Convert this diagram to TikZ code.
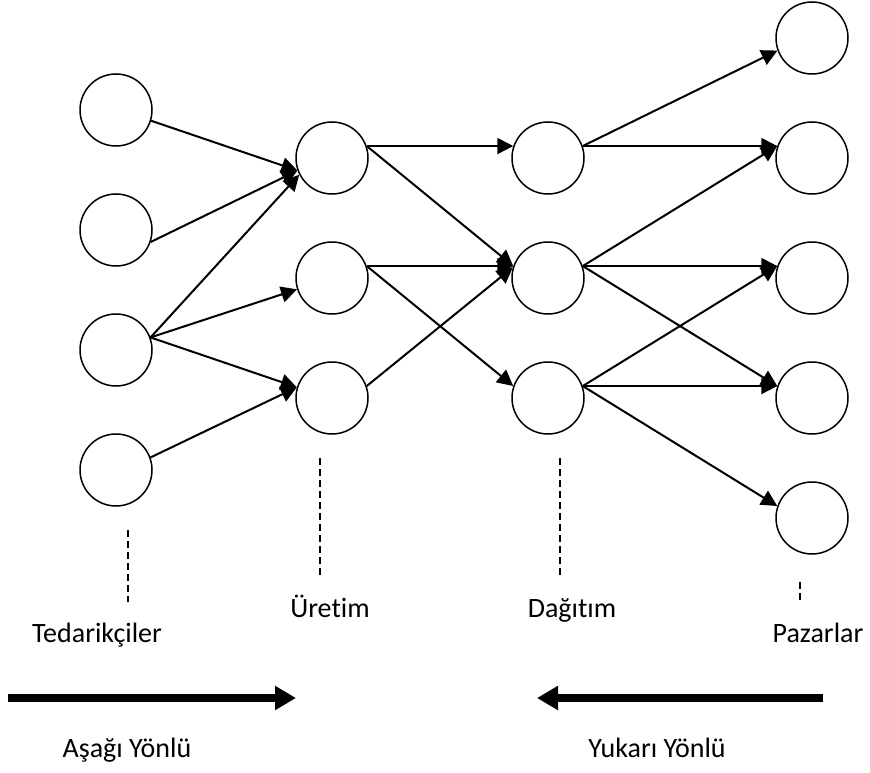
\documentclass[tikz,border=0pt]{standalone}
\usepackage{fontspec}
\setmainfont{Carlito}[Ligatures=NoCommon]
\usetikzlibrary{arrows.meta}

\begin{document}
\begin{tikzpicture}
		[
			x = 1pt, y = -1pt,
			firm/.style = {circle, draw = black, line width = 1.5pt, minimum size = 72pt, inner sep = 0pt},
			flow/.style = {line width = 2pt, -{Triangle[length = 16pt, width = 16pt]}},
			guide/.style = {line width = 1.3pt, dash pattern = on 7pt off 4pt},
			trend/.style = {line width = 8pt, -{Triangle[length = 21pt, width = 23pt]}},
			caption/.style = {anchor = base, inner sep = 0pt, font = \fontsize{28}{34}\selectfont},
		]
			%
			\useasboundingbox (0,0) rectangle (870,773);
			%
			\node (tedA) [firm] at (116,110) {};
			\node (tedB) [firm] at (116,230) {};
			\node (tedC) [firm] at (116,350) {};
			\node (tedD) [firm] at (116,470) {};
			%
			\node (uretA) [firm] at (332,158) {};
			\node (uretB) [firm] at (332,278) {};
			\node (uretC) [firm] at (332,398) {};
			%
			\node (dagA) [firm] at (548,158) {};
			\node (dagB) [firm] at (548,278) {};
			\node (dagC) [firm] at (548,398) {};
			%
			\node (pazA) [firm] at (812,38) {};
			\node (pazB) [firm] at (812,158) {};
			\node (pazC) [firm] at (812,278) {};
			\node (pazD) [firm] at (812,398) {};
			\node (pazE) [firm] at (812,518) {};
			%
			\draw [flow] (tedA.-17) -- (uretA.200);
			\draw [flow] (tedB.-19) -- (uretA.200);
			\draw [flow] (tedC.20) -- (uretA.207);
			\draw [flow] (tedC.20) -- (uretB.198);
			\draw [flow] (tedC.20) -- (uretC.163);
			\draw [flow] (tedD.20) -- (uretC.163);
			%
			\draw [flow] (uretA.19) -- (dagA.161);
			\draw [flow] (uretA.19) -- (dagB.161);
			\draw [flow] (uretB.19) -- (dagB.161);
			\draw [flow] (uretB.19) -- (dagC.161);
			\draw [flow] (uretC.19) -- (dagB.163);
			%
			\draw [flow] (dagA.19) -- (pazA.200);
			\draw [flow] (dagA.19) -- (pazB.161);
			\draw [flow] (dagB.19) -- (pazB.161);
			\draw [flow] (dagB.19) -- (pazC.161);
			\draw [flow] (dagB.19) -- (pazD.161);
			\draw [flow] (dagC.19) -- (pazC.161);
			\draw [flow] (dagC.19) -- (pazD.161);
			\draw [flow] (dagC.19) -- (pazE.161);
			%
			\draw [guide] (128,530) -- (128,602);
			\draw [guide] (320,458) -- (320,577);
			\draw [guide] (560,458) -- (560,577);
			\draw [guide] (800,582) -- (800,603);
			%
			\node (tedlabel) [caption] at (97,642) {Tedarikçiler};
			\node (uretlabel) [caption] at (330,617) {Üretim};
			\node (daglabel) [caption] at (572,617) {Dağıtım};
			\node (pazlabel) [caption] at (818,642) {Pazarlar};
			%
			\coordinate (downStart) at (8,698);
			\coordinate (downEnd) at (296,698);
			\coordinate (upStart) at (823,698);
			\coordinate (upEnd) at (537,698);
			\draw [trend] (downStart) -- (downEnd);
			\draw [trend] (upStart) -- (upEnd);
			%
			\node (downlabel) [caption] at (127,757) {Aşağı Yönlü};
			\node (uplabel) [caption] at (657,757) {Yukarı Yönlü};
			%
		\end{tikzpicture}
\end{document}
